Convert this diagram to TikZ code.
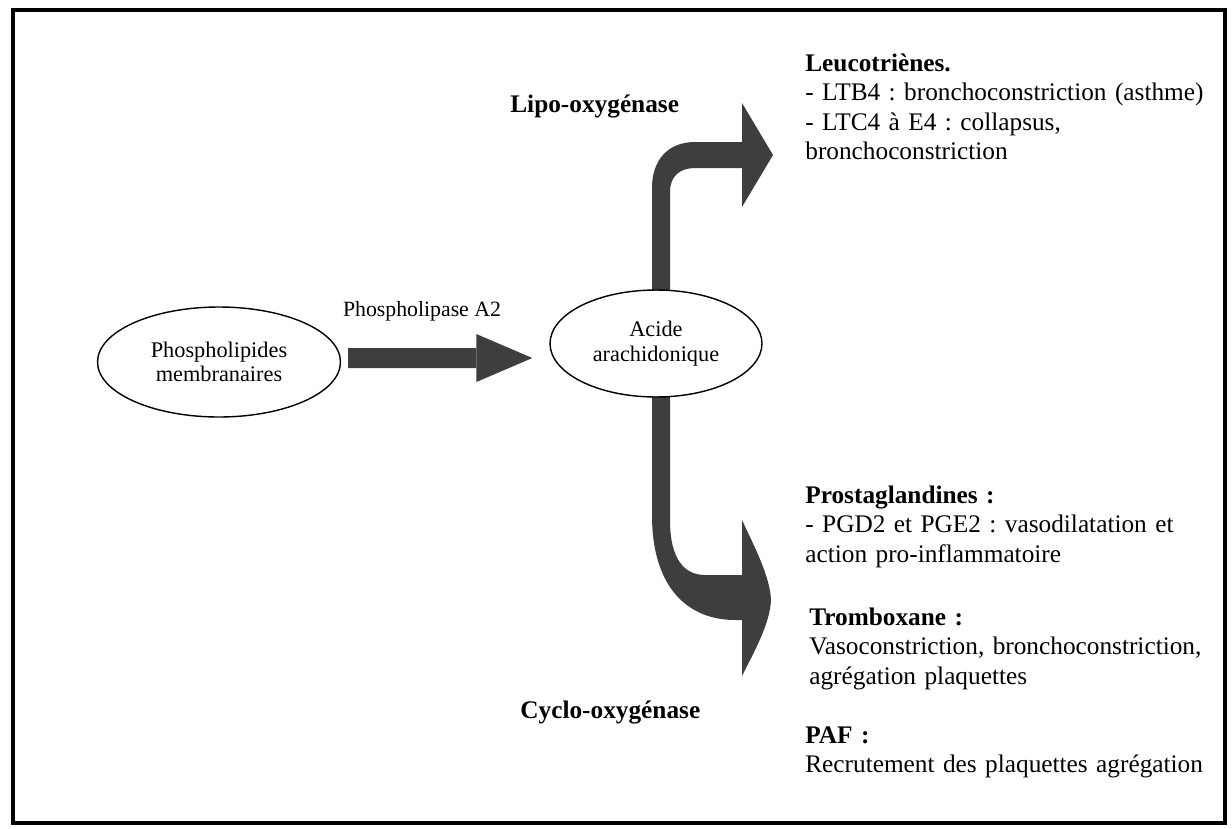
\documentclass[tikz,border=0pt]{standalone}
\usepackage{fontspec}
\setmainfont{Liberation Serif}
\usepackage{tikz}
\usetikzlibrary{calc,shapes.geometric,arrows.meta,backgrounds}
\definecolor{flowgray}{RGB}{62,62,62}
\frenchspacing

\begin{document}
\begin{tikzpicture}[x=0.02cm, y=-0.02cm,
        bulle/.style={draw, ellipse, line width=0.8pt, inner sep=0pt, align=center, font=\fontsize{12.7}{14}\selectfont},
        enzyme/.style={anchor=base west, inner sep=0pt, font=\fontsize{14.4}{16.8}\selectfont\bfseries},
        effets/.style={anchor=base west, inner sep=0pt, text width=9cm, align=left, font=\fontsize{14.4}{16.8}\selectfont},
        flow/.style={fill=flowgray}
    ]
        \useasboundingbox (0,0) rectangle (1232,829);
        \draw[line width=0.08cm] (13,10) rectangle (1225,823);

        % Nodes
        \node[bulle, minimum width=4.86cm, minimum height=2.2cm] (phospho) at (219,362) {Phospholipides\\membranaires};
        \node[bulle, minimum width=4.24cm, minimum height=2.14cm] (acide) at (656,343.5) {Acide\\arachidonique};
        \node[anchor=base, inner sep=0pt, font=\fontsize{12.4}{14}\selectfont] (pla2) at (422,316) {Phospholipase A2};
        \node[enzyme] (lipo) at (510,112) {Lipo-oxygénase};
        \node[enzyme] (cyclo) at (520,718) {Cyclo-oxygénase};

        \node[effets] (leuco) at (805,71) {\textbf{Leucotriènes.}\\- LTB4 : bronchoconstriction (asthme)\\- LTC4 à E4 : collapsus,\\bronchoconstriction};
        \node[effets] (prosta) at (805,503) {\textbf{Prostaglandines :}\\- PGD2 et PGE2 : vasodilatation et\\action pro-inflammatoire};
        \node[effets] (trombo) at (809,625) {\textbf{Tromboxane :}\\Vasoconstriction, bronchoconstriction,\\agrégation plaquettes};
        \node[effets] (paf) at (805,743) {\textbf{PAF :}\\Recrutement des plaquettes agrégation};

        \coordinate (a2Start) at ($(phospho.east)+(7,-4)$);
        \coordinate (a2Tip) at ($(acide.west)+(-17,14.5)$);
        \coordinate (lipoTip) at (773,155);
        \coordinate (cycloTip) at (771,600);

        % Arrows
        \begin{scope}[on background layer]
        \draw[draw=flowgray, line width=0.4cm, -{Triangle[length=1.12cm, width=0.96cm, line width=0pt]}] (a2Start) -- (a2Tip);

        \fill[flow] ($(acide.north)+(-4,1)$) -- (652,188)
            .. controls (652,160) and (668,142) .. (695,142) -- (742,142) -- (742,103)
            -- (lipoTip) -- (742,207) -- (742,168) -- (695,168)
            .. controls (680,168) and (670,176) .. (670,192) -- ($(acide.north)+(14,1)$) -- cycle;

        \fill[flow] ($(acide.south)+(-4,-1)$) -- (652,515)
            .. controls (652,590) and (690,620) .. (735,620) -- (742,620) -- (742,676)
            .. controls (754,652) and (770,624) .. (cycloTip)
            .. controls (770,576) and (754,546) .. (742,520) -- (742,575) -- (705,575)
            .. controls (685,575) and (670,560) .. (670,520) -- ($(acide.south)+(14,-1)$) -- cycle;
        \end{scope}
    \end{tikzpicture}
\end{document}
